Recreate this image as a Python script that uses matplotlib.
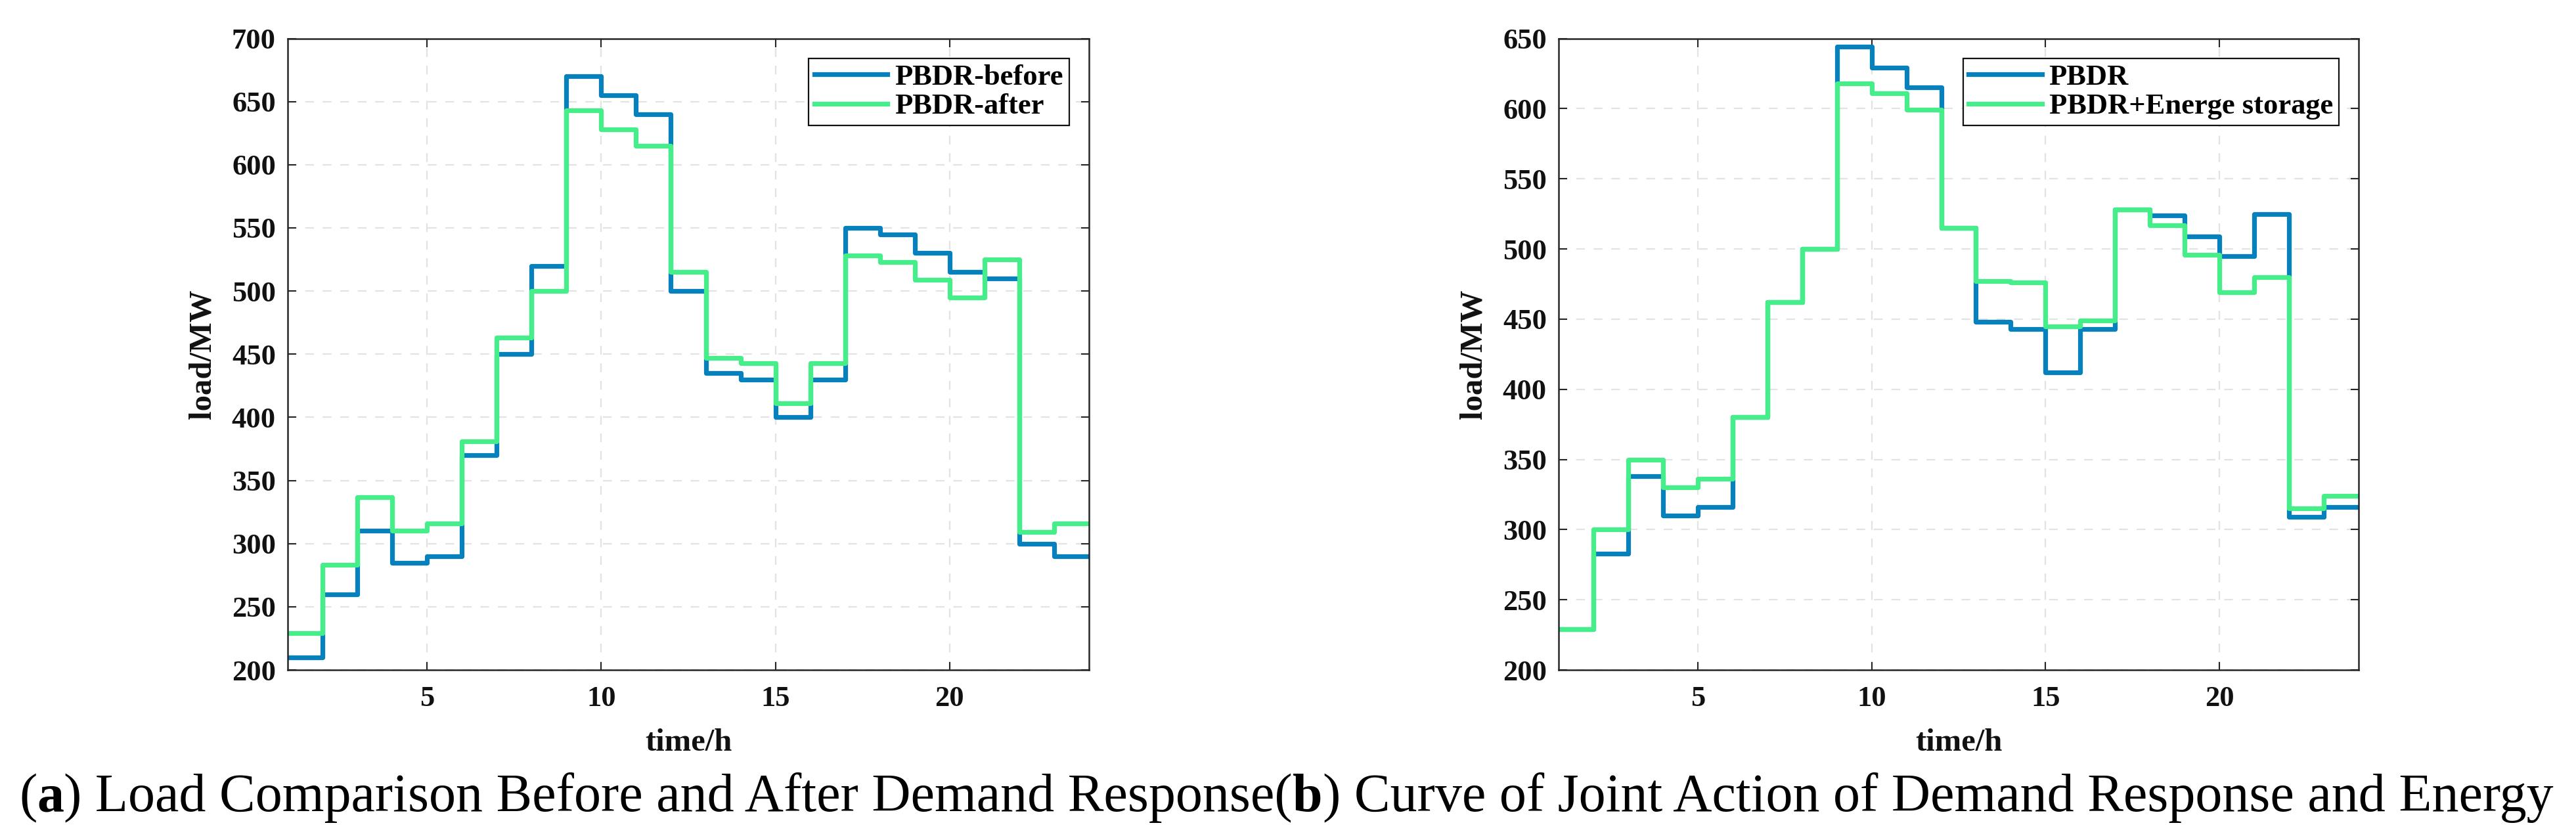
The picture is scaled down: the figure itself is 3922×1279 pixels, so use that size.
import matplotlib
matplotlib.use("Agg")
import matplotlib.pyplot as plt
import numpy as np

# ---------------- data ----------------
hours = list(range(1, 25))
pbdr_before = [210, 260, 310, 285, 290, 370, 450, 520, 670, 655, 640, 500,
               435, 430, 400, 430, 550, 545, 530, 515, 510, 300, 290, 290]
pbdr_after = [229, 283, 337, 310, 316, 381, 463, 500, 643, 628, 615, 515,
              447, 443, 411, 443, 528, 523, 509, 495, 525, 309, 316, 316]

pbdr = [229, 283, 338, 310, 316, 380, 462, 500, 644, 629, 615, 515,
        448, 443, 412, 443, 528, 524, 509, 495, 525, 309, 316, 316]
pbdr_storage = [229, 300, 350, 330, 336, 380, 462, 500, 618, 611, 599, 515,
                477, 476, 445, 449, 528, 517, 496, 469, 480, 315, 324, 324]

left_labels = ["PBDR-before", "PBDR-after"]
right_labels = ["PBDR", "PBDR+Energe storage"]
xlabel = "time/h"
ylabel = "load/MW"
xticks = [5, 10, 15, 20]
left_yticks = list(range(200, 701, 50))
right_yticks = list(range(200, 651, 50))
caption_parts = [("(", "normal"), ("a", "bold"),
                 (") Load Comparison Before and After Demand Response(", "normal"),
                 ("b", "bold"),
                 (") Curve of Joint Action of Demand Response and Energy", "normal")]

# ---------------- style ----------------
W, H, DPI = 3922, 1279, 100
BLUE = "#0780BE"
GREEN = "#46EE8A"
AXC = "#262626"
SERIF = ["Liberation Serif", "DejaVu Serif"]

fig = plt.figure(figsize=(W / DPI, H / DPI), dpi=DPI)

def px_axes(x0, x1, y0, y1):
    return fig.add_axes([x0 / W, 1 - y1 / H, (x1 - x0) / W, (y1 - y0) / H])

def style(ax, ylim, yticks, s1, s2, labels):
    ax.step(hours, s1, where="post", color=BLUE, lw=5.2, label=labels[0])
    ax.step(hours, s2, where="post", color=GREEN, lw=5.2, label=labels[1])
    ax.set_xlim(1, 24)
    ax.set_ylim(*ylim)
    ax.set_xticks(xticks)
    ax.set_yticks(yticks)
    ax.grid(True, ls=(0, (6, 6)), color="#E3E3E3", lw=1.6)
    ax.set_axisbelow(True)
    for sp in ax.spines.values():
        sp.set_color(AXC)
        sp.set_linewidth(1.8)
    ax.tick_params(direction="in", top=True, right=True, length=9, width=1.5,
                   color=AXC, labelsize=32, labelcolor="#111111")
    ax.tick_params(axis="x", pad=17)
    ax.tick_params(axis="y", pad=13)
    for t in ax.get_xticklabels() + ax.get_yticklabels():
        t.set_fontfamily(SERIF)
        t.set_fontweight("bold")
    ax.set_xlabel(xlabel, fontsize=35, fontweight="bold", family=SERIF,
                  labelpad=18, color="#111111")
    ax.set_ylabel(ylabel, fontsize=35, fontweight="bold", family=SERIF,
                  labelpad=16, color="#111111")
    leg = ax.legend(loc="upper right", prop={"family": SERIF, "weight": "bold", "size": 32},
                    frameon=True, fancybox=False, framealpha=1, edgecolor="#111111",
                    handlelength=2.5, handletextpad=0.25, labelspacing=0.1,
                    borderpad=0.2, borderaxespad=0.68)
    leg.get_frame().set_linewidth(1.6)

ax1 = px_axes(438, 1658, 58.5, 1020)
style(ax1, (200, 700), left_yticks, pbdr_before, pbdr_after, left_labels)
ax2 = px_axes(2373, 3591, 58.5, 1020)
style(ax2, (200, 650), right_yticks, pbdr, pbdr_storage, right_labels)

# ---------------- caption ----------------
fig.canvas.draw()
renderer = fig.canvas.get_renderer()
cap_size = 54
x_start, x_end = 29, 3888
base_y = (H - 1235) / H

def place(size):
    x = x_start
    texts = []
    for s, w in caption_parts:
        t = fig.text(x / W, base_y, s, fontsize=size, fontweight=w,
                     family=SERIF, va="baseline", ha="left", color="black")
        bb = t.get_window_extent(renderer)
        x = bb.x1
        texts.append(t)
    return texts, x

texts, xe = place(cap_size)
scale = (x_end - x_start) / (xe - x_start)
for t in texts:
    t.remove()
texts, xe = place(cap_size * scale)

fig.savefig("out.png", dpi=DPI)
